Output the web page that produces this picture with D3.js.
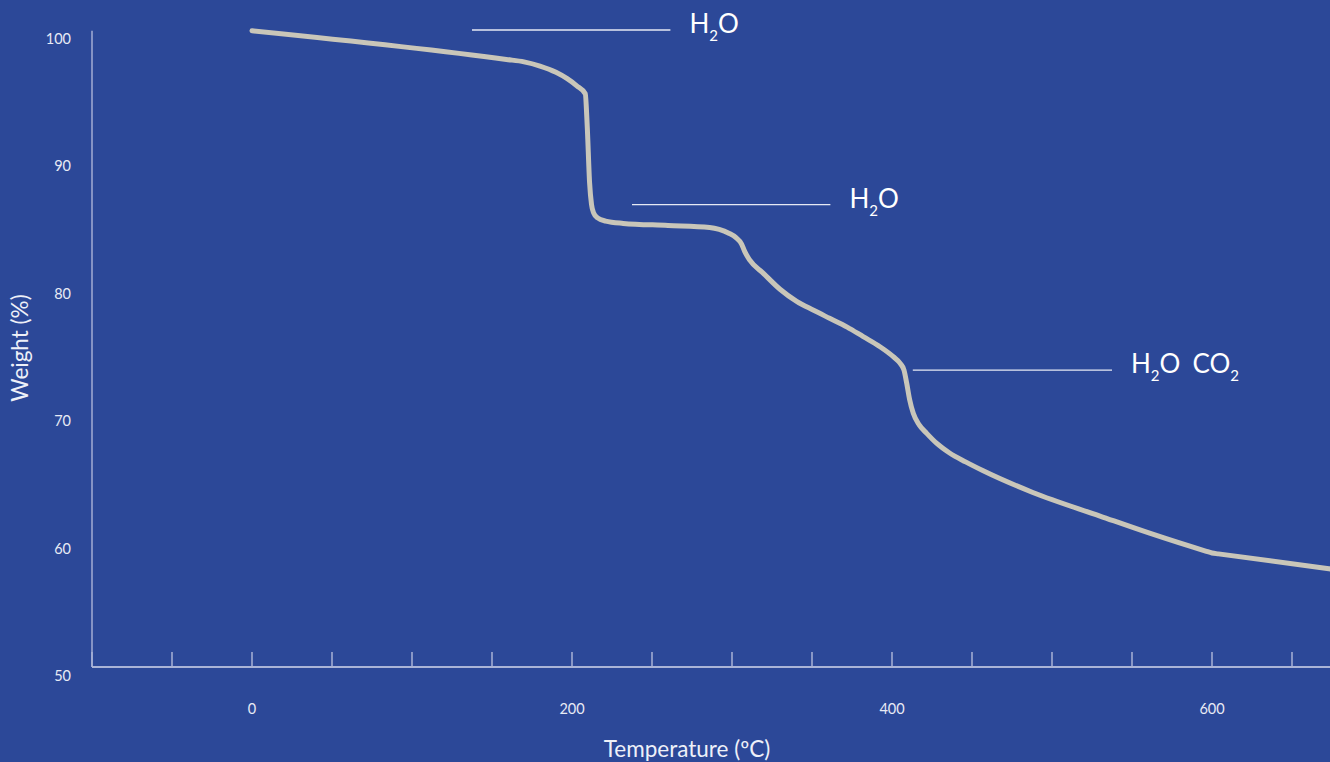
<!DOCTYPE html>
<html><head><meta charset="utf-8">
<script src="https://cdn.jsdelivr.net/npm/d3@7"></script>
<style>
html,body{margin:0;padding:0;background:#2c4898;}
svg{display:block;font-family:Lato, "Open Sans", sans-serif;}
</style></head>
<body><svg id="c" width="1330" height="762"></svg>
<script>
// Temperature (ºC)
const temperature = [0, 159, 170, 180, 190, 197, 203, 208.3, 209.5, 211, 212.2, 213.5, 216, 221, 232, 260, 286, 292, 298, 302.5, 306, 308, 311, 319.6, 330, 340.4, 351, 361, 372, 382, 392.5, 400.8, 405, 407.5, 409.2, 411, 413.3, 417, 421.7, 428, 436, 446, 457, 488, 530, 561, 596, 600, 604, 675];
// Weight (%)
const weight = [99.94, 97.69, 97.5, 97.17, 96.68, 96.18, 95.62, 95.0, 92.5, 88.0, 86.3, 85.65, 85.25, 85.0, 84.82, 84.66, 84.5, 84.35, 84.05, 83.7, 83.2, 82.6, 81.95, 80.9, 79.65, 78.7, 78.0, 77.37, 76.68, 75.93, 75.14, 74.36, 73.85, 73.3, 72.27, 71.0, 69.91, 69.0, 68.34, 67.55, 66.8, 66.1, 65.4, 63.7, 61.85, 60.5, 59.1, 58.95, 58.88, 57.68];
const xTicks = [-100, -50, 0, 50, 100, 150, 200, 250, 300, 350, 400, 450, 500, 550, 600, 650];
const xTickLabels = [0, 200, 400, 600];
const yTickLabels = [50, 60, 70, 80, 90, 100];
const annoStart = [137.5, 237.5, 413];
const annoEnd = [261.5, 361.5, 537.5];
const annoValue = [100, 86.3, 73.3];
const annoParts = [["H", "2", "O"], ["H", "2", "O"], ["H", "2", "O", "CO", "2"]];

const svg = d3.select("#c");
const x = d3.scaleLinear().domain([-100, 675]).range([92, 1332]);
const y = d3.scaleLinear().domain([50, 100]).range([667, 30]);

// y axis line
svg.append("line").attr("x1", x(-100)).attr("x2", x(-100))
  .attr("y1", y(50)).attr("y2", y(99.95))
  .attr("stroke", "#a3add4").attr("stroke-width", 1.5);

// x axis
const xg = svg.append("g").attr("transform", `translate(0,${y(50)})`);
xg.append("line").attr("x1", x(-100)).attr("x2", 1330)
  .attr("stroke", "#d4d9ec").attr("stroke-width", 1.5);
xg.selectAll("line.tick").data(xTicks).join("line").attr("class", "tick")
  .attr("x1", d => x(d)).attr("x2", d => x(d)).attr("y1", 0).attr("y2", -15)
  .attr("stroke", "#a9b2d6").attr("stroke-width", 1.5);
xg.selectAll("text").data(xTickLabels).join("text")
  .attr("x", d => x(d)).attr("y", 42).attr("dy", "0.35em")
  .attr("text-anchor", "middle").attr("fill", "#e8ebf5")
  .attr("font-size", 14.5).text(d => d);

// y tick labels
svg.append("g").selectAll("text").data(yTickLabels).join("text")
  .attr("x", 71).attr("y", d => y(d) + 9).attr("dy", "0.35em")
  .attr("text-anchor", "end").attr("fill", "#e8ebf5")
  .attr("font-size", 14.5).text(d => d);

// axis titles
svg.append("text").attr("x", 687).attr("y", 749).attr("dy", "0.35em")
  .attr("text-anchor", "middle").attr("fill", "#eef0f8").attr("font-size", 22.5)
  .text("Temperature (ºC)");
svg.append("text").attr("transform", "translate(20,348) rotate(-90)")
  .attr("dy", "0.35em").attr("text-anchor", "middle").attr("fill", "#eef0f8")
  .attr("font-size", 22.5).text("Weight (%)");

// curve
const pts = temperature.map((t, i) => [t, weight[i]]);
svg.append("path").datum(pts)
  .attr("d", d3.line().x(d => x(d[0])).y(d => y(d[1])).curve(d3.curveMonotoneX))
  .attr("fill", "none").attr("stroke", "#c9c6b9").attr("stroke-width", 5)
  .attr("stroke-linecap", "round").attr("stroke-linejoin", "round");

// annotations
annoStart.forEach((s, i) => {
  svg.append("line").attr("x1", x(s)).attr("x2", x(annoEnd[i]))
    .attr("y1", y(annoValue[i])).attr("y2", y(annoValue[i]))
    .attr("stroke", "#e6e9f4").attr("stroke-width", 1.3);
  const t = svg.append("text").attr("x", x(annoEnd[i]) + 19).attr("y", y(annoValue[i]) + 3)
    .attr("fill", "#ffffff").attr("font-size", 26);
  let sub = false;
  annoParts[i].forEach(part => {
    const sp = t.append("tspan").text(part);
    if (part === "2") { sp.attr("font-size", 15).attr("dy", 8); sub = true; }
    else {
      if (sub) sp.attr("dy", -8);
      if (part === "CO") sp.attr("dx", 12);
      sub = false;
    }
  });
});
</script></body></html>
